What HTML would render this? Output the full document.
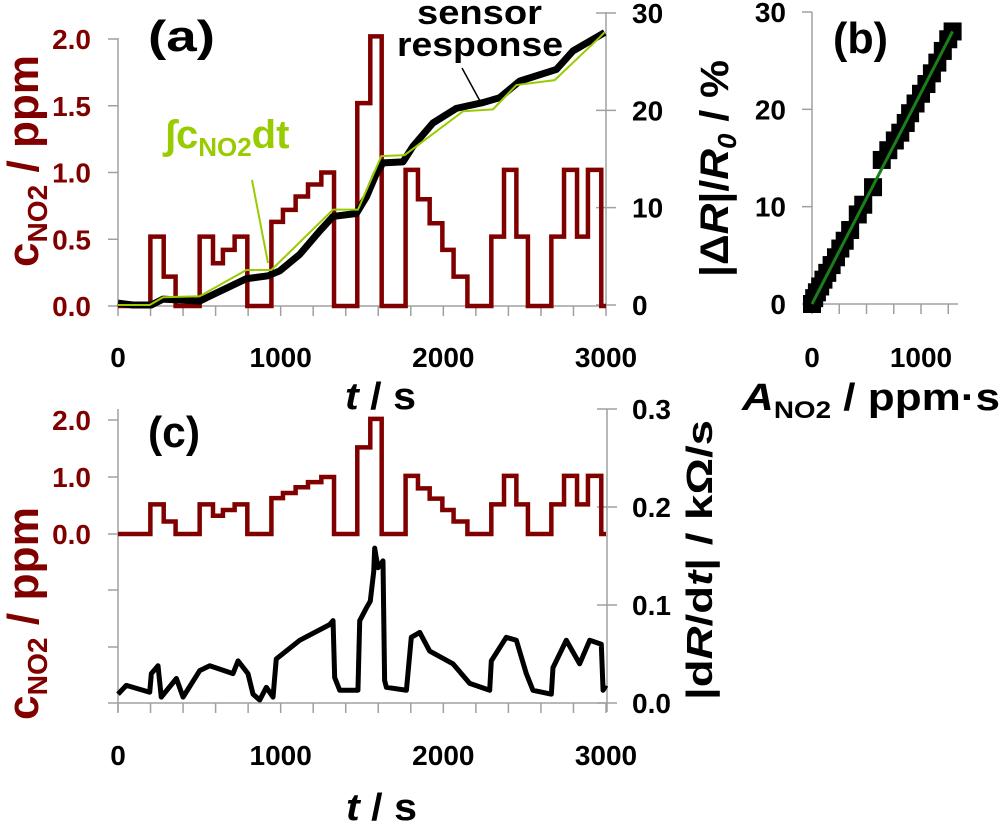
<!DOCTYPE html>
<html><head><meta charset="utf-8">
<style>
body{margin:0;background:#fff;}
svg{display:block;font-family:"Liberation Sans",Arial,sans-serif;font-weight:bold;}
</style></head>
<body>
<svg id="fig" width="1000" height="825" viewBox="0 0 1000 825" xmlns="http://www.w3.org/2000/svg">
<g id="axes" stroke="#a0a0a0" stroke-width="1.5" fill="none"></g>
<g id="marks"></g>
<g id="labels"></g>
</svg>
<script>
// NO2 concentration step profile: [time s, ppm]
const concT = [0,199,281,354,502,584,645,717,795,943,1014,1092,1168,1250,1328,1471,1551,1621,1768,1844,1916,1994,2063,2148,2295,2373,2449,2520,2664,2742,2822,2889,2971,3000];
const concV = [0,0.52,0.22,0,0.52,0.32,0.42,0.52,0,0.63,0.72,0.82,0.91,1.0,0,1.52,2.02,0,1.02,0.8,0.62,0.42,0.22,0,0.52,1.02,0.52,0,0.52,1.02,0.52,1.02,0,0];
// sensor response (%)
const respT = [0,92,205,277,502,563,789,922,994,1117,1240,1322,1465,1527,1588,1629,1752,1813,1936,2080,2244,2346,2469,2695,2797,2992];
const respV = [0.2,0,0,0.6,0.4,0.9,2.7,3.0,3.5,5.2,7.6,9.1,9.4,11.1,13.5,14.6,14.7,16.3,18.7,20.2,20.8,21.3,23.0,24.2,26.1,28.0];
// integral of concentration (scaled)
const intT = [0,195,277,502,789,943,1322,1475,1619,1762,2121,2305,2449,2684,2961,2990];
const intV = [0,0,0.8,0.9,3.6,3.6,9.8,9.8,15.3,15.4,19.9,20.1,22.6,23.1,27.5,28];
// |dR/dt| kOhm/s
const derT = [0,51,195,205,246,266,359,400,502,564,707,738,799,830,871,912,953,973,1117,1301,1322,1332,1363,1475,1486,1527,1551,1572,1578,1598,1629,1639,1650,1773,1803,1855,1916,2059,2162,2285,2295,2387,2449,2510,2551,2664,2674,2756,2838,2900,2971,2982,3000];
const derV = [0.009,0.018,0.011,0.030,0.038,0.006,0.025,0.006,0.033,0.038,0.030,0.043,0.030,0.009,0.003,0.016,0.006,0.045,0.064,0.080,0.084,0.026,0.013,0.013,0.084,0.097,0.104,0.134,0.158,0.138,0.145,0.023,0.016,0.013,0.067,0.072,0.053,0.040,0.020,0.013,0.043,0.067,0.064,0.030,0.013,0.009,0.036,0.064,0.040,0.064,0.060,0.013,0.018];
// panel b: area vs response
const bA = [0,20,45,75,105,140,180,220,260,300,350,420,470,560,640,700,760,810,860,900,950,1000,1050,1100,1150,1200,1250,1290];
const bR = [0,0.6,1.2,1.8,2.5,3.2,4.0,4.8,5.7,6.5,7.6,9.2,10.2,12.0,14.8,15.8,16.8,17.6,18.6,19.6,20.6,21.6,22.6,23.7,24.8,26.0,27.2,28.0];
const xTicks = [0,1000,2000,3000];
const aLeftTicks = [0,0.5,1.0,1.5,2.0];
const aRightTicks = [0,10,20,30];
const cLeftTicks = [0,1.0,2.0];
const cRightTicks = [0,0.1,0.2,0.3];
const bYTicks = [0,10,20,30];
const bXTicks = [0,1000];

const NS="http://www.w3.org/2000/svg";
const axes=document.getElementById('axes'), marks=document.getElementById('marks'), labels=document.getElementById('labels');
function el(tag, attrs, parent){const e=document.createElementNS(NS,tag);for(const k in attrs)e.setAttribute(k,attrs[k]);parent.appendChild(e);return e;}
function line(x1,y1,x2,y2,p){return el('line',{x1,y1,x2,y2},p);}
function txt(x,y,s,anchor,size,fill,p){const t=el('text',{x,y,'text-anchor':anchor,'font-size':size,fill},p);t.textContent=s;return t;}

const X=t=>118+t*(488/3000);
const aL=v=>306-v*133.5, aR=v=>305-v*(292/30);
const cL=v=>534-v*57, cR=v=>703-v*(294/0.3);
const bX=a=>812+a*(109/1000), bY=r=>304-r*(292/30);

function stepPath(ts,vs,fy){let d='M'+X(ts[0])+','+fy(vs[0]);for(let i=1;i<ts.length;i++){d+=' L'+X(ts[i])+','+fy(vs[i-1])+' L'+X(ts[i])+','+fy(vs[i]);}return d;}
function linePath(ts,vs,fy){return ts.map((t,i)=>(i?'L':'M')+X(t)+','+fy(vs[i])).join(' ');}

// ---- panel a axes
line(118,306,606,306,axes);
for(let t=0;t<=3000;t+=200){line(X(t),306,X(t),316,axes);}
line(118,38,118,306,axes);
aLeftTicks.forEach(v=>{line(108,aL(v),118,aL(v),axes);});
line(606,12,606,306,axes);
aRightTicks.forEach(v=>{line(596,aR(v),616,aR(v),axes);});
// panel c axes
line(118,703,607,703,axes);
for(let t=0;t<=3000;t+=200){line(X(t),703,X(t),713,axes);}
line(118,409,118,712,axes);
[420,477,534,590,647,703].forEach(y=>line(108,y,118,y,axes));
line(607,409,607,712,axes);
cRightTicks.forEach(v=>line(597,cR(v),617,cR(v),axes));
// panel b axes
line(812,12,812,304,axes);
bYTicks.forEach(v=>line(802,bY(v),812,bY(v),axes));
line(812,304,958,304,axes);
for(let a=0;a<=1250;a+=250){line(bX(a),304,bX(a),314,axes);}

// ---- marks panel a
const ra=el('path',{d:stepPath(concT,concV,aL),fill:'none',stroke:'#800000','stroke-width':4.5},marks);


const rb=el('path',{d:linePath(respT,respV,aR),fill:'none',stroke:'#000','stroke-width':7,'stroke-linejoin':'round'},marks);


const gi=el('path',{d:linePath(intT,intV,aR),fill:'none',stroke:'#99cc00','stroke-width':2},marks);


const bp=line(462,68,480,101,marks);bp.setAttribute('stroke','#000');bp.setAttribute('stroke-width','1.5');
const gp=line(252,180,268,263,marks);gp.setAttribute('stroke','#99cc00');gp.setAttribute('stroke-width','2');
// panel c
const rc=el('path',{d:stepPath(concT,concV,cL),fill:'none',stroke:'#800000','stroke-width':4.5},marks);


const dc=el('path',{d:linePath(derT,derV,cR),fill:'none',stroke:'#000','stroke-width':5,'stroke-linejoin':'round'},marks);


// panel b
bA.forEach((a,i)=>{const s=el('rect',{x:bX(a)-9,y:bY(bR[i])-9,width:18,height:18,fill:'#000'},marks);

});
const fit=line(bX(0),bY(0),bX(1290),bY(28),marks);fit.setAttribute('stroke','#1a7f1a');fit.setAttribute('stroke-width','3');



// ---- tick labels
aLeftTicks.forEach(v=>txt(91,aL(v)+10,v.toFixed(1),'end',28,'#800000',labels));
aRightTicks.forEach(v=>txt(632,aR(v)+10,String(v),'start',28,'#000',labels));
xTicks.forEach(t=>{txt(X(t),367,String(t),'middle',28,'#000',labels);txt(X(t),765,String(t),'middle',28,'#000',labels);});
cLeftTicks.forEach(v=>txt(91,cL(v)+10,v.toFixed(1),'end',28,'#800000',labels));
cRightTicks.forEach(v=>txt(632,cR(v)+10,v.toFixed(1),'start',28,'#000',labels));
bYTicks.forEach(v=>txt(786,bY(v)+10,String(v),'end',28,'#000',labels));
bXTicks.forEach(a=>txt(bX(a),367,String(a),'middle',28,'#000',labels));
</script>
<svg width="1000" height="825" style="position:absolute;left:0;top:0;font-family:'Liberation Sans',Arial,sans-serif;font-weight:bold">
<text x="148" y="51" font-size="44" textLength="67" lengthAdjust="spacingAndGlyphs">(a)</text>
<text x="833" y="53" font-size="44" textLength="55" lengthAdjust="spacingAndGlyphs">(b)</text>
<text x="148" y="447" font-size="44" textLength="52" lengthAdjust="spacingAndGlyphs">(c)</text>
<text x="417" y="24" font-size="34" textLength="125" lengthAdjust="spacingAndGlyphs">sensor</text>
<text x="397" y="56" font-size="34" textLength="166" lengthAdjust="spacingAndGlyphs">response</text>
<text x="165" y="148" font-size="40" fill="#99cc00">∫c<tspan font-size="26" dy="8">NO2</tspan><tspan dy="-8">dt</tspan></text>
<text x="345" y="409" font-size="38" textLength="71" lengthAdjust="spacingAndGlyphs"><tspan font-style="italic">t</tspan> / s</text>
<text x="346" y="820" font-size="38" textLength="71" lengthAdjust="spacingAndGlyphs"><tspan font-style="italic">t</tspan> / s</text>
<text x="742" y="410" font-size="38" textLength="258" lengthAdjust="spacingAndGlyphs"><tspan font-style="italic">A</tspan><tspan font-size="24" dy="8">NO2</tspan><tspan dy="-8"> / ppm·s</tspan></text>
<text transform="translate(38,267) rotate(-90)" font-size="44" fill="#800000" textLength="212" lengthAdjust="spacingAndGlyphs">c<tspan font-size="28" dy="9">NO2</tspan><tspan dy="-9"> / ppm</tspan></text>
<text transform="translate(38,720) rotate(-90)" font-size="44" fill="#800000" textLength="213" lengthAdjust="spacingAndGlyphs">c<tspan font-size="28" dy="9">NO2</tspan><tspan dy="-9"> / ppm</tspan></text>
<text transform="translate(728,277) rotate(-90)" font-size="40" textLength="217" lengthAdjust="spacingAndGlyphs">|Δ<tspan font-style="italic">R</tspan>|/<tspan font-style="italic">R</tspan><tspan font-size="26" dy="8" font-style="italic">0</tspan><tspan dy="-8"> / %</tspan></text>
<text transform="translate(712,700) rotate(-90)" font-size="36" textLength="280" lengthAdjust="spacingAndGlyphs">|d<tspan font-style="italic">R</tspan>/d<tspan font-style="italic">t</tspan>| / kΩ/s</text>
</svg>
</body></html>
